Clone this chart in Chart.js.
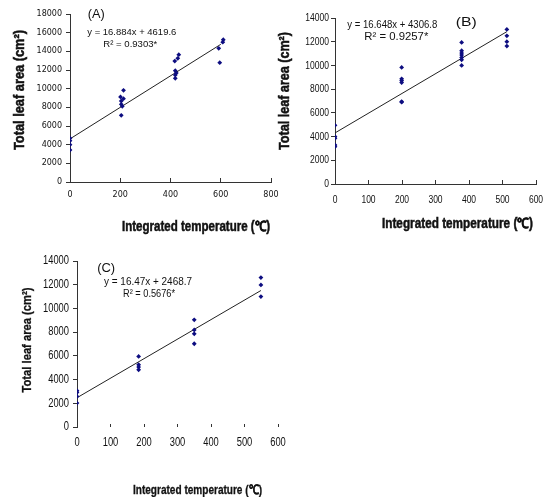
<!DOCTYPE html>
<html>
<head>
<meta charset="utf-8">
<script src="https://cdn.jsdelivr.net/npm/chart.js@4.4.0/dist/chart.umd.min.js"></script>
<style>
  html, body { margin: 0; padding: 0; background: #fff; }
  #page { position: relative; width: 545px; height: 497px; overflow: hidden; }
  .panel { position: absolute; }
</style>
</head>
<body>
<div id="page">
  <div class="panel" style="left:0;top:0"><canvas id="chartA" width="285" height="240"></canvas></div>
  <div class="panel" style="left:270px;top:0"><canvas id="chartB" width="275" height="240"></canvas></div>
  <div class="panel" style="left:0;top:245px"><canvas id="chartC" width="290" height="252"></canvas></div>
</div>
<script>
// (A) measurements
const tempA = [0, 0, 0, 0, 213, 201, 213, 204, 204, 208, 204, 433, 429, 417, 419, 423, 419, 419, 610, 608, 592, 596];
const areaA = [4700, 4430, 4000, 3430, 9820, 9110, 8930, 8680, 8320, 8110, 7140, 13640, 13250, 12960, 11930, 11680, 11460, 11110, 15240, 14980, 14320, 12790];
const xTicksA = [0, 200, 400, 600, 800];
const yTicksA = [0, 2000, 4000, 6000, 8000, 10000, 12000, 14000, 16000, 18000];
const fitA = [16.884, 4619.6];   // slope, intercept
const fitRangeA = [0, 600];

// (B) measurements
const tempB = [0, 0, 0, 0, 0, 199, 199, 199, 199, 199, 199, 378, 378, 378, 378, 378, 378, 378, 513, 513, 513, 513];
const areaB = [4950, 4000, 3860, 3290, 3150, 9830, 8870, 8730, 8560, 6950, 6900, 11940, 11240, 11040, 10870, 10670, 10470, 10000, 13040, 12500, 12000, 11630];
const xTicksB = [0, 100, 200, 300, 400, 500, 600];
const yTicksB = [0, 2000, 4000, 6000, 8000, 10000, 12000, 14000];
const fitB = [16.648, 4306.8];
const fitRangeB = [0, 513];

// (C) measurements
const tempC = [0, 0, 0, 0, 184, 184, 184, 184, 350, 350, 350, 350, 549, 549, 549];
const areaC = [3060, 2920, 2580, 2020, 5950, 5250, 5050, 4830, 9040, 8190, 7860, 7020, 12600, 11980, 11000];
const xTicksC = [0, 100, 200, 300, 400, 500, 600];
const yTicksC = [0, 2000, 4000, 6000, 8000, 10000, 12000, 14000];
const fitC = [16.47, 2468.7];
const fitRangeC = [0, 549];

const SANS = "'Liberation Sans', Arial, sans-serif";
const INK = '#111';
const AXIS = '#333';
const DOT = '#0d0d80';

// draws text narrowed horizontally by k (or fitted to len px when len is set)
function squeezed(ctx, text, px, py, k, rot, heavy) {
    ctx.save();
    ctx.translate(px, py);
    if (rot) ctx.rotate(rot);
    ctx.scale(k, 1);
    if (heavy) {
        ctx.lineWidth = heavy;
        ctx.strokeStyle = INK;
        ctx.strokeText(text, 0, 0);
    }
    ctx.fillText(text, 0, 0);
    ctx.restore();
}

function fitK(ctx, text, len) {
    return len / ctx.measureText(text).width;
}

// tick labels and axis titles in a narrow face
const axisTextPlugin = {
    id: 'axisText',
    afterDraw(chart, args, o) {
        const { ctx, chartArea: a, scales: { x, y } } = chart;
        ctx.save();
        ctx.fillStyle = INK;
        ctx.textBaseline = 'middle';

        ctx.font = o.tickFont;
        ctx.textAlign = 'center';
        x.ticks.forEach(t => squeezed(ctx, String(t.value), x.getPixelForValue(t.value), a.bottom + o.xLabelGap, o.tickSqueeze));
        ctx.textAlign = 'right';
        y.ticks.forEach(t => squeezed(ctx, String(t.value), a.left - o.yLabelGap, y.getPixelForValue(t.value), o.tickSqueeze));

        ctx.font = o.titleFont;
        const xt = o.xTitle, yt = o.yTitle;
        ctx.textAlign = xt.align;
        squeezed(ctx, xt.text, xt.x, xt.y, fitK(ctx, xt.text, xt.len), 0, o.heavy);
        ctx.textAlign = 'center';
        squeezed(ctx, yt.text, yt.x, yt.y, fitK(ctx, yt.text, yt.len), -Math.PI / 2, o.heavy);
        ctx.restore();
    }
};

// free text inside the plot (panel letter, regression equation)
const notesPlugin = {
    id: 'notes',
    afterDatasetsDraw(chart, args, opts) {
        const { ctx, scales: { x, y } } = chart;
        ctx.save();
        ctx.fillStyle = INK;
        ctx.textBaseline = 'middle';
        ctx.textAlign = 'center';
        (opts.items || []).forEach(n => {
            ctx.font = n.font;
            const k = n.len ? fitK(ctx, n.text, n.len) : 1;
            squeezed(ctx, n.text, x.getPixelForValue(n.x), y.getPixelForValue(n.y), k);
        });
        ctx.restore();
    }
};

function points(xs, ys) {
    return xs.map((v, i) => ({ x: v, y: ys[i] }));
}

function trend(fit, range) {
    return range.map(v => ({ x: v, y: fit[0] * v + fit[1] }));
}

function initPanel(id, p) {
    const ctx = document.getElementById(id);
    return new Chart(ctx, {
        type: 'scatter',
        data: {
            datasets: [{
                data: points(p.xs, p.ys),
                pointStyle: 'rectRot',
                pointRadius: 2.4,
                backgroundColor: DOT,
                borderColor: DOT,
                borderWidth: 0
            }, {
                data: trend(p.fit, p.fitRange),
                showLine: true,
                borderColor: '#222',
                borderWidth: 1,
                pointRadius: 0,
                fill: false
            }]
        },
        options: {
            responsive: false,
            animation: false,
            events: [],
            layout: { padding: p.pad },
            plugins: {
                legend: { display: false },
                tooltip: { enabled: false },
                notes: { items: p.notes },
                axisText: p.text
            },
            scales: {
                x: {
                    type: 'linear',
                    min: p.xTicks[0],
                    max: p.xTicks[p.xTicks.length - 1],
                    afterBuildTicks: s => { s.ticks = p.xTicks.map(v => ({ value: v })); },
                    afterFit: s => { s.height = p.xHeight; },
                    border: { display: p.xLine, color: AXIS, width: 1 },
                    grid: { drawOnChartArea: false, tickLength: p.xTickLen, color: AXIS, lineWidth: 1 },
                    ticks: { display: false }
                },
                y: {
                    type: 'linear',
                    min: p.yTicks[0],
                    max: p.yTicks[p.yTicks.length - 1],
                    afterBuildTicks: s => { s.ticks = p.yTicks.map(v => ({ value: v })); },
                    afterFit: s => { s.width = p.yWidth; },
                    border: { display: true, color: AXIS, width: 1 },
                    grid: { drawOnChartArea: false, tickLength: 4, color: AXIS, lineWidth: 1 },
                    ticks: { display: false }
                }
            }
        },
        plugins: [notesPlugin, axisTextPlugin]
    });
}

window.chartA = initPanel('chartA', {
    xs: tempA, ys: areaA, fit: fitA, fitRange: fitRangeA,
    xTicks: xTicksA, yTicks: yTicksA,
    pad: { top: 14, right: 14, left: 0, bottom: 0 },
    xHeight: 58, yWidth: 70, xLine: true, xTickLen: -4,
    text: {
        tickFont: "8px 'DejaVu Sans'", tickSqueeze: 1, xLabelGap: 13, yLabelGap: 8,
        titleFont: 'bold 14px ' + SANS, heavy: 0.5,
        xTitle: { text: 'Integrated temperature (℃)', align: 'right', x: 270, y: 227, len: 148 },
        yTitle: { text: 'Total leaf area (cm²)', x: 20, y: 90, len: 120 }
    },
    notes: [
        { text: '(A)', x: 104, y: 18000, font: '13px ' + SANS, len: 17 },
        { text: 'y = 16.884x + 4619.6', x: 246, y: 16040, font: '9px ' + SANS, len: 89 },
        { text: 'R² = 0.9303*', x: 240, y: 14680, font: '9px ' + SANS, len: 54 }
    ]
});

window.chartB = initPanel('chartB', {
    xs: tempB, ys: areaB, fit: fitB, fitRange: fitRangeB,
    xTicks: xTicksB, yTicks: yTicksB,
    pad: { top: 18, right: 9, left: 0, bottom: 0 },
    xHeight: 56, yWidth: 65, xLine: true, xTickLen: -4,
    text: {
        tickFont: '11.5px ' + SANS, tickSqueeze: 0.74, xLabelGap: 16, yLabelGap: 6,
        titleFont: 'bold 14px ' + SANS, heavy: 0.5,
        xTitle: { text: 'Integrated temperature (℃)', align: 'right', x: 263, y: 224, len: 151 },
        yTitle: { text: 'Total leaf area (cm²)', x: 15, y: 91, len: 118 }
    },
    notes: [
        { text: '(B)', x: 392, y: 13600, font: '13px ' + SANS, len: 21 },
        { text: 'y = 16.648x + 4306.8', x: 171, y: 13430, font: '11px ' + SANS, len: 90 },
        { text: 'R² = 0.9257*', x: 183, y: 12420, font: '11px ' + SANS, len: 64 }
    ]
});

window.chartC = initPanel('chartC', {
    xs: tempC, ys: areaC, fit: fitC, fitRange: fitRangeC,
    xTicks: xTicksC, yTicks: yTicksC,
    pad: { top: 16, right: 12, left: 0, bottom: 0 },
    xHeight: 70, yWidth: 77, xLine: false, xTickLen: -3,
    text: {
        tickFont: '12px ' + SANS, tickSqueeze: 0.78, xLabelGap: 16, yLabelGap: 8,
        titleFont: 'bold 13px ' + SANS, heavy: 0.3,
        xTitle: { text: 'Integrated temperature (℃)', align: 'right', x: 262, y: 245, len: 129 },
        yTitle: { text: 'Total leaf area (cm²)', x: 27, y: 95, len: 105 }
    },
    notes: [
        { text: '(C)', x: 87, y: 13400, font: '13px ' + SANS, len: 18 },
        { text: 'y = 16.47x + 2468.7', x: 212, y: 12200, font: '11px ' + SANS, len: 88 },
        { text: 'R² = 0.5676*', x: 215, y: 11230, font: '11px ' + SANS, len: 52 }
    ]
});
</script>
</body>
</html>
